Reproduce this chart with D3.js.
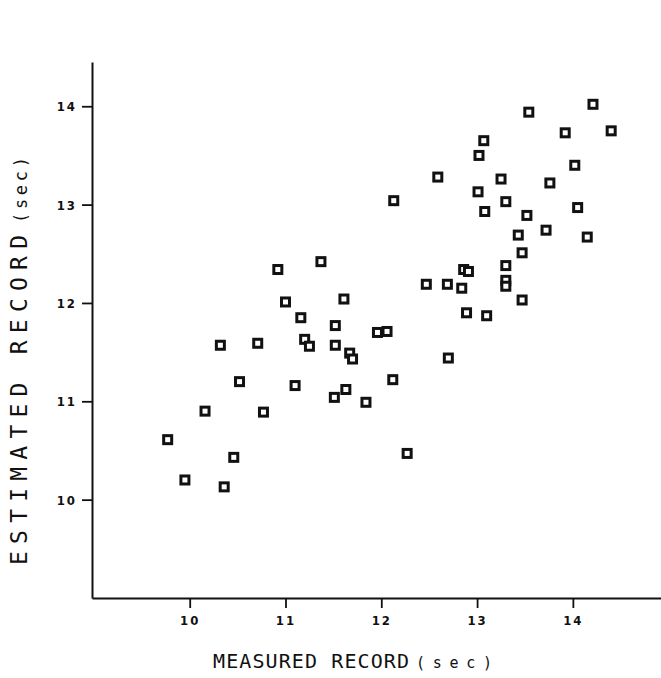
<!DOCTYPE html>
<html>
<head>
<meta charset="utf-8">
<script src="https://d3js.org/d3.v7.min.js"></script>
<style>
  body { margin: 0; padding: 0; background: #fff; }
  svg { display: block; }
  .tick text { font-family: "DejaVu Sans Condensed", "DejaVu Sans", sans-serif; font-weight: bold; font-size: 13px; letter-spacing: 2px; }
  .title { font-family: "DejaVu Sans Mono", monospace; fill: #111; }
</style>
</head>
<body>
<div id="chart"></div>
<script>
// measured record (sec) vs estimated record (sec)
var measured = [
  10.92, 11.37, 11.00, 11.61, 11.16, 11.52, 11.96, 12.06, 10.32, 10.71,
  11.20, 11.25, 11.52, 11.67, 11.70, 10.52, 11.10, 12.12, 11.63, 11.51,
  11.84, 10.16, 10.77, 9.77, 10.46, 9.95, 10.36, 14.21, 13.54, 13.92,
  14.40, 13.07, 13.02, 14.02, 12.59, 13.25, 13.76, 13.01, 12.13, 13.30,
  13.08, 14.05, 13.52, 13.72, 13.43, 14.15, 13.47, 13.30, 12.86, 12.91,
  12.47, 12.69, 12.84, 13.30, 13.30, 13.47, 12.89, 13.10, 12.70, 12.27
];
var estimated = [
  12.34, 12.42, 12.01, 12.04, 11.85, 11.77, 11.70, 11.71, 11.57, 11.59,
  11.63, 11.56, 11.57, 11.49, 11.43, 11.20, 11.16, 11.22, 11.12, 11.04,
  10.99, 10.90, 10.89, 10.61, 10.43, 10.20, 10.13, 14.02, 13.94, 13.73,
  13.75, 13.65, 13.50, 13.40, 13.28, 13.26, 13.22, 13.13, 13.04, 13.03,
  12.93, 12.97, 12.89, 12.74, 12.69, 12.67, 12.51, 12.38, 12.34, 12.32,
  12.19, 12.19, 12.15, 12.23, 12.17, 12.03, 11.90, 11.87, 11.44, 10.47
];
var xTicks = [10, 11, 12, 13, 14];
var yTicks = [10, 11, 12, 13, 14];

var W = 661, H = 678;
var svg = d3.select("#chart").append("svg")
    .attr("width", W)
    .attr("height", H);

var x = d3.scaleLinear().domain([8.98, 14.92]).range([92, 661]);
var y = d3.scaleLinear().domain([9.0, 14.45]).range([598, 62]);

// x axis
var gx = svg.append("g")
    .attr("transform", "translate(0,598)")
    .call(d3.axisBottom(x).tickValues(xTicks).tickFormat(d3.format("d"))
        .tickSize(10).tickSizeOuter(0).tickPadding(8));

// y axis
var gy = svg.append("g")
    .attr("transform", "translate(92,0)")
    .call(d3.axisLeft(y).tickValues(yTicks).tickFormat(d3.format("d"))
        .tickSize(10).tickSizeOuter(0).tickPadding(5));

svg.selectAll(".domain").attr("stroke", "#111").attr("stroke-width", 2);
svg.selectAll(".tick line").attr("stroke", "#111").attr("stroke-width", 1.8);
svg.selectAll(".tick text").attr("fill", "#111");
gy.selectAll(".tick text").attr("dy", "0.35em");

// points
var pts = measured.map(function (m, i) { return { m: m, e: estimated[i] }; });
svg.append("g")
    .selectAll("rect")
    .data(pts)
    .enter()
    .append("rect")
    .attr("x", function (d) { return x(d.m) - 4; })
    .attr("y", function (d) { return y(d.e) - 4; })
    .attr("width", 8)
    .attr("height", 8)
    .attr("fill", "#fff")
    .attr("stroke", "#111")
    .attr("stroke-width", 3);

// axis titles
var xt = svg.append("text")
    .attr("class", "title")
    .attr("x", 213)
    .attr("y", 668);
xt.append("tspan").attr("font-size", 20).attr("textLength", 196)
    .attr("lengthAdjust", "spacing").text("MEASURED RECORD");
xt.append("tspan").attr("x", 416).attr("font-size", 15).attr("textLength", 76)
    .attr("lengthAdjust", "spacing").text("(sec)");

var yt = svg.append("text")
    .attr("class", "title")
    .attr("transform", "translate(27,565) rotate(-90)");
yt.append("tspan").attr("font-size", 23).attr("textLength", 330)
    .attr("lengthAdjust", "spacing").text("ESTIMATED RECORD");
yt.append("tspan").attr("x", 342).attr("font-size", 17).attr("textLength", 66)
    .attr("lengthAdjust", "spacing").text("(sec)");
</script>
</body>
</html>
